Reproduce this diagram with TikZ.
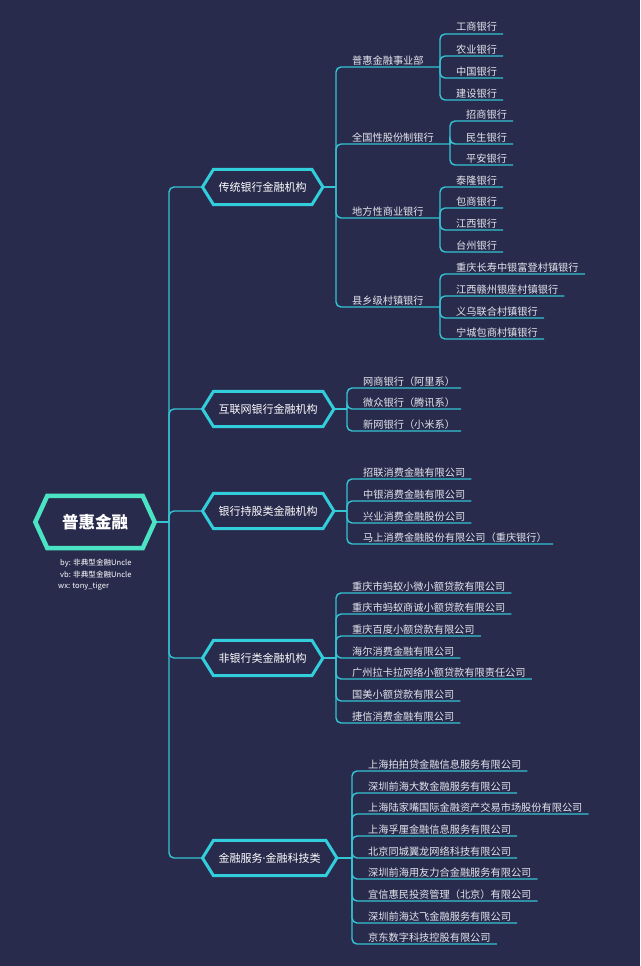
\documentclass[tikz,border=0pt]{standalone}
\usepackage{fontspec}
\setmainfont{Noto Sans CJK SC}
\newfontfamily\latinf{Noto Sans}
\definecolor{bgc}{RGB}{41,43,77}
\definecolor{linec}{RGB}{52,196,212}
\definecolor{hexc}{RGB}{50,206,220}
\definecolor{rootc}{RGB}{74,228,196}
\definecolor{txtc}{RGB}{228,230,238}
\newcommand\hexpath[3]{\draw[#3] (#1.west) -- ([xshift=#2]#1.north west) -- ([xshift=-#2]#1.north east) -- (#1.east) -- ([xshift=-#2]#1.south east) -- ([xshift=#2]#1.south west) -- cycle;}
\begin{document}
\begin{tikzpicture}[x=1pt,y=-1pt,
  conn/.style={draw=linec,line width=1.4pt,rounded corners=5pt},
  leaf/.style={anchor=base west,yshift=3pt,inner sep=0pt,text=txtc,font=\fontsize{10.2pt}{12pt}\selectfont},
  branch/.style={anchor=west,minimum height=35pt,inner xsep=16pt,inner ysep=0pt,text=white,font=\fontsize{11pt}{13pt}\selectfont},
  credit/.style={anchor=west,inner sep=0pt,text=white,font=\fontsize{7.6pt}{9pt}\selectfont}]
\fill[bgc] (0,0) rectangle (640,966);
\useasboundingbox (0,0) rectangle (640,966);

% root and branches (text nodes)
\node[minimum width=119pt,minimum height=52pt,inner sep=0pt,text=white,font=\fontsize{16.5pt}{19pt}\selectfont\bfseries] (root) at (95,522) {普惠金融};
\node[branch] (b1) at (202.5,187) {传统银行金融机构};
\node[branch] (b2) at (202.5,409) {互联网银行金融机构};
\node[branch] (b3) at (202.5,511) {银行持股类金融机构};
\node[branch] (b4) at (202.5,658) {非银行类金融机构};
\node[branch] (b5) at (202.5,858) {金融服务{\latinf ·}金融科技类};

\node[credit] (c1) at (60,563) {by: 非典型金融Uncle};
\node[credit] (c2) at (60,575) {vb: 非典型金融Uncle};
\node[credit] (c3) at (58,586) {wx: tony\_tiger};

% junction coordinates
\coordinate (rj) at (169,522);
\coordinate (j1) at (336,187);
\coordinate (j2) at (347,409);
\coordinate (j3) at (347,511);
\coordinate (j4) at (336,658);
\coordinate (j5) at (352,858);
\coordinate (jc11) at (440,67);
\coordinate (jc12) at (450,144);
\coordinate (jc13) at (440,218);
\coordinate (jc14) at (440,307);

% root to branches
\draw[conn] (root.east) -- (rj);
\foreach \b in {b1,b2,b3,b4,b5} { \draw[conn] (rj) |- (\b.west); }
\draw[conn] (b1.east) -- (j1);
\draw[conn] (b2.east) -- (j2);
\draw[conn] (b3.east) -- (j3);
\draw[conn] (b4.east) -- (j4);
\draw[conn] (b5.east) -- (j5);

% branch 1 sub-groups
\node[leaf] (s11) at (352,67) {普惠金融事业部};
\node[leaf] (s12) at (352,144) {全国性股份制银行};
\node[leaf] (s13) at (352,218) {地方性商业银行};
\node[leaf] (s14) at (352,307) {县乡级村镇银行};
\foreach \j in {jc11,jc12,jc13,jc14} { \draw[conn] (j1) |- (\j); }

\foreach \n/\y/\t in {a/34/工商银行,b/56/农业银行,c/78/中国银行,d/100/建设银行} {
  \node[leaf] (l1\n) at (456,\y) {\t};
  \draw[conn] (jc11) |- ([shift={(6pt,-3pt)}]l1\n.base east);
}
\foreach \n/\y/\t in {a/121/招商银行,b/144/民生银行,c/165/平安银行} {
  \node[leaf] (l2\n) at (466,\y) {\t};
  \draw[conn] (jc12) |- ([shift={(6pt,-3pt)}]l2\n.base east);
}
\foreach \n/\y/\t in {a/187/泰隆银行,b/208/包商银行,c/230/江西银行,d/252/台州银行} {
  \node[leaf] (l3\n) at (456,\y) {\t};
  \draw[conn] (jc13) |- ([shift={(6pt,-3pt)}]l3\n.base east);
}
\foreach \n/\y/\t in {a/274/重庆长寿中银富登村镇银行,b/296/江西赣州银座村镇银行,c/318/义乌联合村镇银行,d/339/宁城包商村镇银行} {
  \node[leaf] (l4\n) at (456,\y) {\t};
  \draw[conn] (jc14) |- ([shift={(6pt,-3pt)}]l4\n.base east);
}

% branch 2
\foreach \n/\y/\t in {a/388/网商银行（阿里系）,b/409/微众银行（腾讯系）,c/431/新网银行（小米系）} {
  \node[leaf] (m2\n) at (363,\y) {\t};
  \draw[conn] (j2) |- ([shift={(6pt,-3pt)}]m2\n.base east);
}
% branch 3
\foreach \n/\y/\t in {a/479/招联消费金融有限公司,b/501/中银消费金融有限公司,c/523/兴业消费金融股份公司,d/544/马上消费金融股份有限公司（重庆银行）} {
  \node[leaf] (m3\n) at (363,\y) {\t};
  \draw[conn] (j3) |- ([shift={(6pt,-3pt)}]m3\n.base east);
}
% branch 4
\foreach \n/\y/\t in {a/593/重庆市蚂蚁小微小额贷款有限公司,b/614/重庆市蚂蚁商诚小额贷款有限公司,c/636/重庆百度小额贷款有限公司,d/658/海尔消费金融有限公司,e/679/广州拉卡拉网络小额贷款有限责任公司,f/701/国美小额贷款有限公司,g/723/捷信消费金融有限公司} {
  \node[leaf] (m4\n) at (352,\y) {\t};
  \draw[conn] (j4) |- ([shift={(6pt,-3pt)}]m4\n.base east);
}
% branch 5
\foreach \n/\y/\t in {a/771/上海拍拍贷金融信息服务有限公司,b/793/深圳前海大数金融服务有限公司,c/814/上海陆家嘴国际金融资产交易市场股份有限公司,d/836/上海孚厘金融信息服务有限公司,e/858/北京同城翼龙网络科技有限公司,f/879/深圳前海用友力合金融服务有限公司,g/901/宜信惠民投资管理（北京）有限公司,h/923/深圳前海达飞金融服务有限公司,i/944/京东数字科技控股有限公司} {
  \node[leaf] (m5\n) at (368,\y) {\t};
  \draw[conn] (j5) |- ([shift={(6pt,-3pt)}]m5\n.base east);
}

% hexagon outlines
\hexpath{root}{12pt}{draw=rootc,fill=bgc,line width=4.5pt,line join=miter}
\node[minimum width=119pt,minimum height=52pt,inner sep=0pt,text=white,font=\fontsize{16.5pt}{19pt}\selectfont\bfseries] at (root.center) {普惠金融};
\foreach \b in {b1,b2,b3,b4,b5} {
  \hexpath{\b}{11pt}{draw=hexc,fill=bgc,line width=3pt}
}
\node[branch] at (b1.west) {传统银行金融机构};
\node[branch] at (b2.west) {互联网银行金融机构};
\node[branch] at (b3.west) {银行持股类金融机构};
\node[branch] at (b4.west) {非银行类金融机构};
\node[branch] at (b5.west) {金融服务{\latinf ·}金融科技类};
\end{tikzpicture}
\end{document}
